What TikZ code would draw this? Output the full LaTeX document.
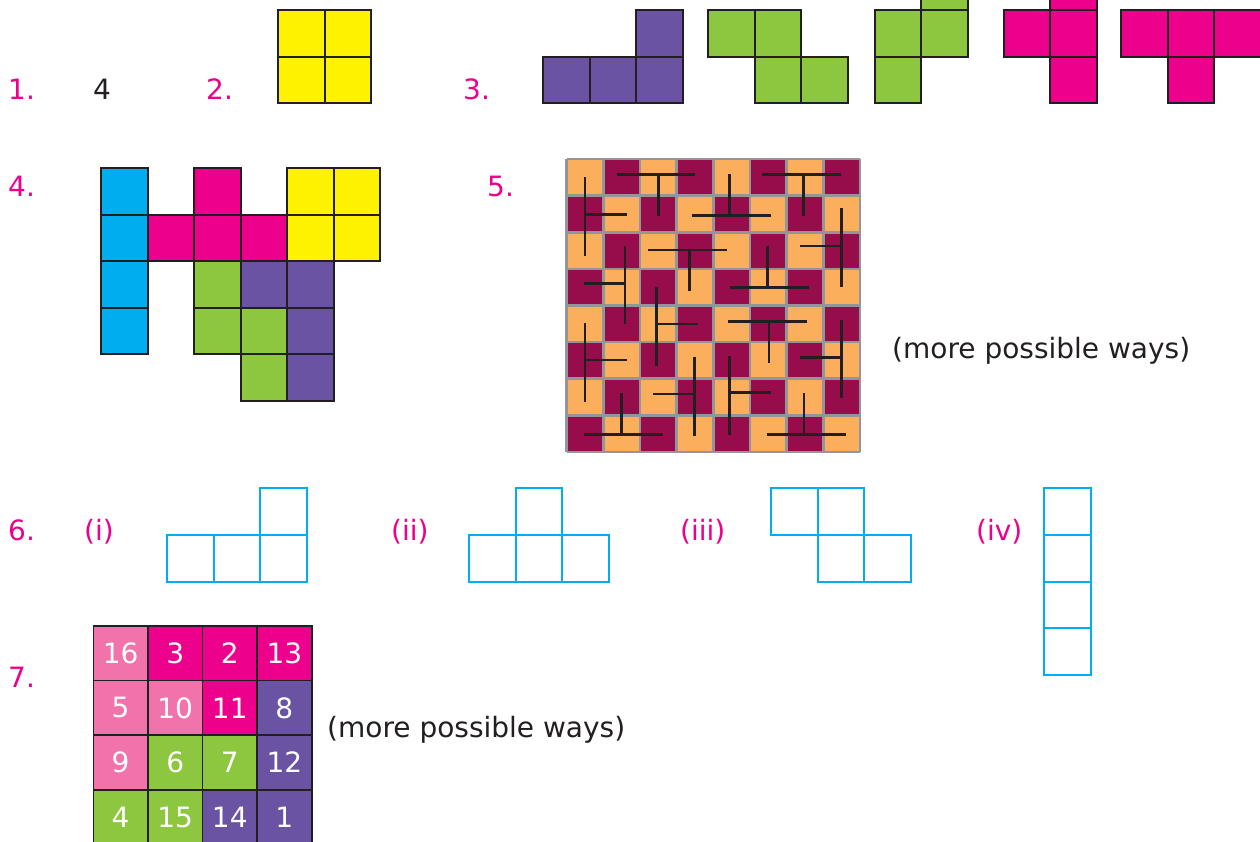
\documentclass[tikz,border=0pt]{standalone}
\usepackage{fontspec}
\setmainfont{DejaVu Sans}
\definecolor{mag}{HTML}{EC008C}
\definecolor{lpink}{HTML}{F173AC}
\definecolor{purp}{HTML}{6953A2}
\definecolor{grn}{HTML}{8DC63F}
\definecolor{cyn}{HTML}{00AEEF}
\definecolor{yel}{HTML}{FFF200}
\definecolor{org}{HTML}{FBAF5D}
\definecolor{mar}{HTML}{970C4A}
\definecolor{ink}{HTML}{231F20}
\definecolor{gry}{HTML}{939598}
\tikzset{
  tile/.style={draw=ink, line width=2pt},
  otile/.style={draw=cyn, line width=2pt},
  lab/.style={anchor=base west, inner sep=0pt, text=mag, font=\fontsize{28}{32}\selectfont},
  txt/.style={anchor=base west, inner sep=0pt, text=ink, font=\fontsize{28}{32}\selectfont},
  cell/.style={draw=ink, line width=1.6pt, minimum size=54.6pt, inner sep=0pt, text=white, font=\fontsize{28}{32}\selectfont},
  tline/.style={draw=ink, line width=2.8pt}
}
\newcommand\tsq[3]{\filldraw[tile, fill=#3] (#1,#2) rectangle ++(46.5,46.5);}
\newcommand\osq[2]{\draw[otile] (#1,#2) rectangle ++(46.7,46.7);}
\begin{document}
\begin{tikzpicture}[x=1pt, y=-1pt]
\useasboundingbox (0,0) rectangle (1260,841);
\clip (0,0) rectangle (1260,841);
\fill[white] (0,0) rectangle (1260,841);

% labels
\node[lab] (l1) at (8,99) {1.};
\node[txt] (a1) at (93,99) {4};
\node[lab] (l2) at (206,99) {2.};
\node[lab] (l3) at (463,99) {3.};
\node[lab] (l4) at (8,196) {4.};
\node[lab] (l5) at (487,196) {5.};
\node[txt] (m5) at (892,358) {(more possible ways)};
\node[lab] (l6) at (8,540) {6.};
\node[lab] (r1) at (84,540) {(i)};
\node[lab] (r2) at (391,540) {(ii)};
\node[lab] (r3) at (680,540) {(iii)};
\node[lab] (r4) at (976,540) {(iv)};
\node[lab] (l7) at (8,687) {7.};
\node[txt] (m7) at (327,737) {(more possible ways)};

% item 2
\tsq{278}{10}{yel}\tsq{324.5}{10}{yel}\tsq{278}{56.5}{yel}\tsq{324.5}{56.5}{yel}

% item 3
\tsq{543}{56.5}{purp}\tsq{589.5}{56.5}{purp}\tsq{636}{56.5}{purp}\tsq{636}{10}{purp}
\tsq{708}{10}{grn}\tsq{754.5}{10}{grn}\tsq{754.5}{56.5}{grn}\tsq{801}{56.5}{grn}
\tsq{921}{-36.5}{grn}\tsq{874.5}{10}{grn}\tsq{921}{10}{grn}\tsq{874.5}{56.5}{grn}
\tsq{1050}{-36.5}{mag}\tsq{1003.5}{10}{mag}\tsq{1050}{10}{mag}\tsq{1050}{56.5}{mag}
\tsq{1121}{10}{mag}\tsq{1167.5}{10}{mag}\tsq{1214}{10}{mag}\tsq{1167.5}{56.5}{mag}

% item 4
\tsq{101}{168}{cyn}\tsq{101}{214.5}{cyn}\tsq{101}{261}{cyn}\tsq{101}{307.5}{cyn}
\tsq{194}{168}{mag}\tsq{147.5}{214.5}{mag}\tsq{194}{214.5}{mag}\tsq{240.5}{214.5}{mag}
\tsq{287}{168}{yel}\tsq{333.5}{168}{yel}\tsq{287}{214.5}{yel}\tsq{333.5}{214.5}{yel}
\tsq{194}{261}{grn}\tsq{194}{307.5}{grn}\tsq{240.5}{307.5}{grn}\tsq{240.5}{354}{grn}
\tsq{240.5}{261}{purp}\tsq{287}{261}{purp}\tsq{287}{307.5}{purp}\tsq{287}{354}{purp}

% item 5 checkerboard
\foreach \r in {0,...,7}{
  \foreach \c in {0,...,7}{
    \pgfmathtruncatemacro{\parity}{mod(\r+\c,2)}
    \ifnum\parity=0
      \fill[org] (566.7+36.66*\c,159+36.6*\r) rectangle ++(36.66,36.6);
    \else
      \fill[mar] (566.7+36.66*\c,159+36.6*\r) rectangle ++(36.66,36.6);
    \fi
  }
}
\foreach \i in {0,...,8}{
  \draw[gry, line width=2.6pt] (566.7+36.66*\i,159) -- (566.7+36.66*\i,451.8);
  \draw[gry, line width=2.6pt] (566.7,159+36.6*\i) -- (860,159+36.6*\i);
}
\begin{scope}[shift={(560,150)}, x=0.3333pt, y=-0.3333pt]
\draw[tline] (170,73)--(405,73) (295,73)--(295,197);
\draw[tline] (75,82)--(75,318) (75,193)--(200,193);
\draw[tline] (508,73)--(508,197) (397,197)--(632,197);
\draw[tline] (607,73)--(842,73) (730,73)--(730,197);
\draw[tline] (845,175)--(845,412) (720,288)--(845,288);
\draw[tline] (195,288)--(195,522) (72,400)--(195,400);
\draw[tline] (265,300)--(500,300) (388,300)--(388,424);
\draw[tline] (622,288)--(622,412) (510,412)--(747,412);
\draw[tline] (289,410)--(289,647) (289,522)--(413,522);
\draw[tline] (503,515)--(740,515) (627,515)--(627,638);
\draw[tline] (75,518)--(75,755) (75,630)--(200,630);
\draw[tline] (845,510)--(845,745) (720,622)--(845,622);
\draw[tline] (403,620)--(403,857) (280,732)--(403,732);
\draw[tline] (508,617)--(508,855) (508,728)--(632,728);
\draw[tline] (72,853)--(308,853) (185,730)--(185,853);
\draw[tline] (620,853)--(857,853) (732,730)--(732,853);
\end{scope}

% item 6
\osq{167}{535}\osq{213.7}{535}\osq{260.4}{535}\osq{260.4}{488.3}
\osq{469}{535}\osq{515.7}{535}\osq{562.4}{535}\osq{515.7}{488.3}
\osq{771}{488.3}\osq{817.7}{488.3}\osq{817.7}{535}\osq{864.4}{535}
\osq{1044}{488.3}\osq{1044}{535}\osq{1044}{581.7}\osq{1044}{628.4}

% item 7
\node[cell, fill=lpink] (n16) at (120.6,653.3) {16};
\node[cell, fill=mag]   (n3)  at (175.2,653.3) {3};
\node[cell, fill=mag]   (n2)  at (229.8,653.3) {2};
\node[cell, fill=mag]   (n13) at (284.4,653.3) {13};
\node[cell, fill=lpink] (n5)  at (120.6,707.9) {5};
\node[cell, fill=lpink] (n10) at (175.2,707.9) {10};
\node[cell, fill=mag]   (n11) at (229.8,707.9) {11};
\node[cell, fill=purp]  (n8)  at (284.4,707.9) {8};
\node[cell, fill=lpink] (n9)  at (120.6,762.5) {9};
\node[cell, fill=grn]   (n6)  at (175.2,762.5) {6};
\node[cell, fill=grn]   (n7)  at (229.8,762.5) {7};
\node[cell, fill=purp]  (n12) at (284.4,762.5) {12};
\node[cell, fill=grn]   (n4)  at (120.6,817.1) {4};
\node[cell, fill=grn]   (n15) at (175.2,817.1) {15};
\node[cell, fill=purp]  (n14) at (229.8,817.1) {14};
\node[cell, fill=purp]  (n1)  at (284.4,817.1) {1};
\end{tikzpicture}
\end{document}
